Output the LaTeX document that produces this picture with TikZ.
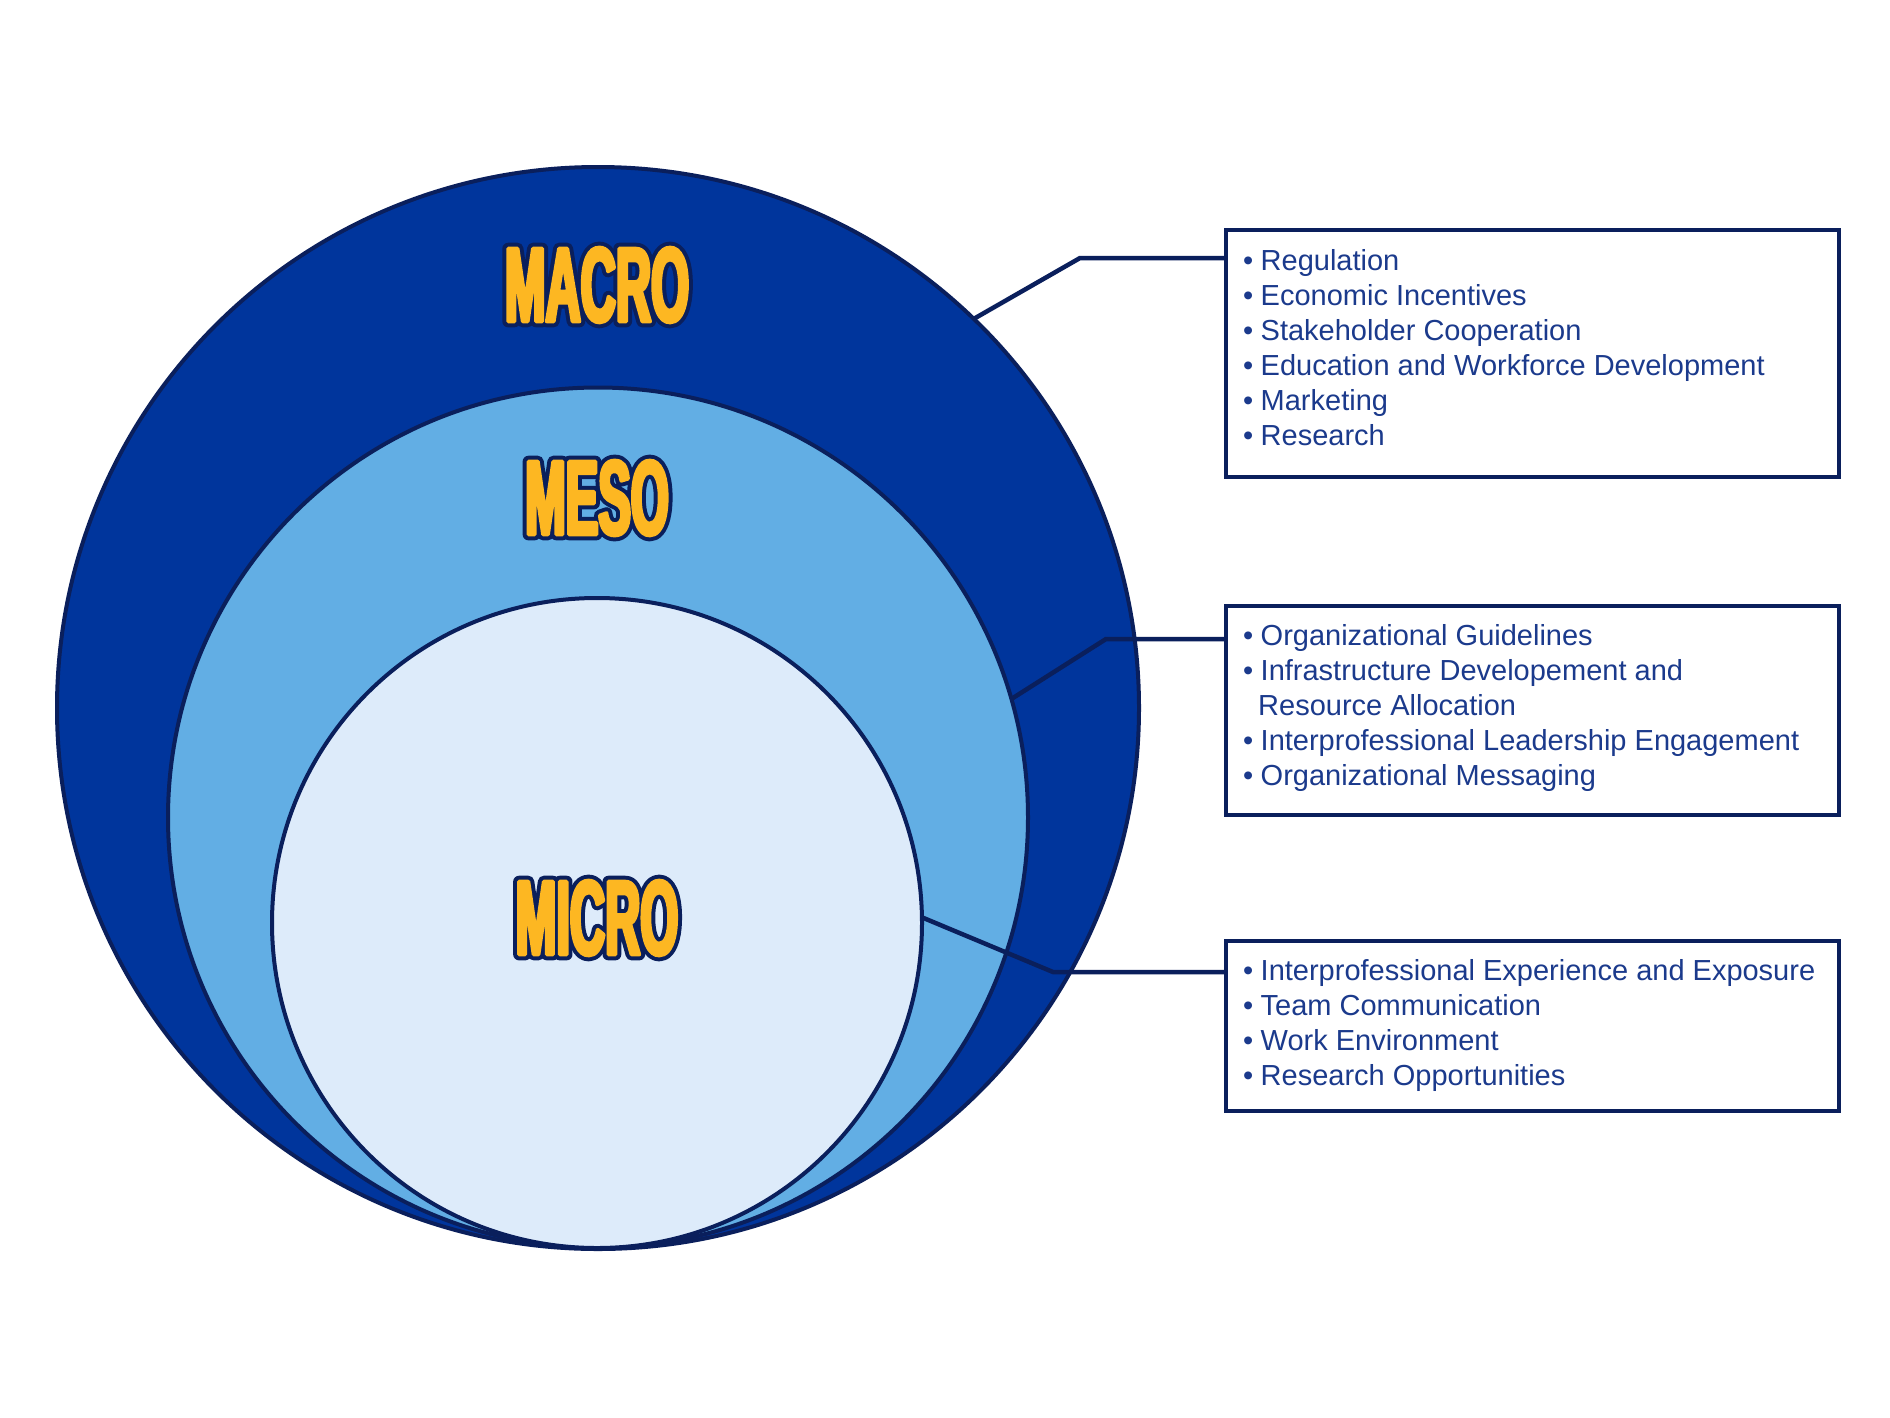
\documentclass[tikz,border=0pt]{standalone}
\usepackage{fontspec}
\setmainfont{Liberation Sans}
\newfontface\labelfill{Liberation Sans Bold}[FakeStretch=0.46, FakeBold=3.5]
\newfontface\labeledge{Liberation Sans Bold}[FakeStretch=0.46, FakeBold=11]
\definecolor{macrofill}{HTML}{00359C}
\definecolor{mesofill}{HTML}{62AEE4}
\definecolor{microfill}{HTML}{DDEBFA}
\definecolor{navy}{HTML}{0A1F5C}
\definecolor{gold}{HTML}{FDB722}
\definecolor{textblue}{HTML}{1B3A8C}
\newcommand\bigword[1]{%
  {\fontsize{106}{106}\rlap{\color{navy}\labeledge #1}{\color{gold}\labelfill #1}}}
\newcommand\itm{\makebox[17.5pt][l]{•}}
\tikzset{
  ring/.style={circle, draw=navy, line width=4pt, inner sep=0pt, outer sep=0pt},
  infobox/.style={rectangle, draw=navy, line width=4.5pt, fill=white, minimum width=613pt, inner sep=0pt, outer sep=0pt},
  infotext/.style={anchor=north west, align=left, inner sep=0pt, text=textblue, font=\fontsize{29}{35}\selectfont},
  connector/.style={draw=navy, line width=4.5pt, line join=miter},
  level/.style={inner sep=0pt}
}
\begin{document}
\begin{tikzpicture}[x=1pt,y=-1pt]
\fill[white] (0,0) rectangle (1890,1417);
\useasboundingbox (0,0) rectangle (1890,1417);
% circles
\node[ring, fill=macrofill, minimum size=1082pt] (macro) at (598,708) {};
\node[ring, fill=mesofill, minimum size=860pt] (meso) at (598,817.5) {};
\node[ring, fill=microfill, minimum size=650pt] (micro) at (597,923) {};
% labels
\begin{scope}[line join=round, line cap=round]
\node[level] (macrolabel) at (597,285) {\bigword{MACRO}};
\node[level] (mesolabel) at (597,498) {\bigword{MESO}};
\node[level] (microlabel) at (597,918) {\bigword{MICRO}};
\end{scope}
% boxes
\node[infobox, minimum height=247pt] (box1) at (1532.5,353.5) {};
\node[infobox, minimum height=209pt] (box2) at (1532.5,710.5) {};
\node[infobox, minimum height=170pt] (box3) at (1532.5,1026) {};
\node[infotext] (text1) at (1243,249.5) {\itm Regulation\\\itm Economic Incentives\\\itm Stakeholder Cooperation\\\itm Education and Workforce Development\\\itm Marketing\\\itm Research};
\node[infotext] (text2) at (1243,624.5) {\itm Organizational Guidelines\\\itm Infrastructure Developement and\\\makebox[15pt]{}Resource Allocation\\\itm Interprofessional Leadership Engagement\\\itm Organizational Messaging};
\node[infotext] (text3) at (1243,959.5) {\itm Interprofessional Experience and Exposure\\\itm Team Communication\\\itm Work Environment\\\itm Research Opportunities};
% connectors
\coordinate (c1) at (1080,258);
\coordinate (c2) at (1106,639);
\coordinate (c3) at (1053,972);
\draw[connector] (macro.46) -- (c1) -- (c1 -| box1.west);
\draw[connector] (meso.16) -- (c2) -- (c2 -| box2.west);
\draw[connector] (micro.1.6) -- (c3) -- (c3 -| box3.west);
\end{tikzpicture}
\end{document}
